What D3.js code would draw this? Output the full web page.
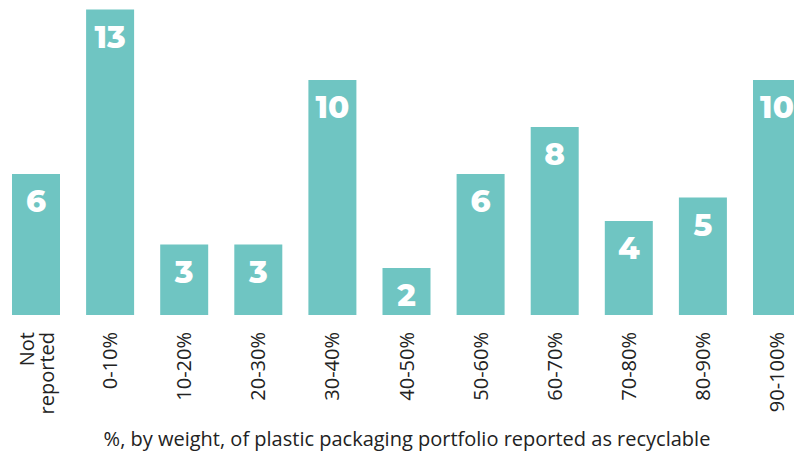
<!DOCTYPE html>
<html><head><meta charset="utf-8">
<script src="https://cdn.jsdelivr.net/npm/d3@7"></script>
<style>body{margin:0;background:#fff}svg{display:block}</style>
</head><body>
<svg id="c" width="794" height="453"></svg>
<script>
const categories = ["Not reported","0-10%","10-20%","20-30%","30-40%","40-50%","50-60%","60-70%","70-80%","80-90%","90-100%"];
const values = [6,13,3,3,10,2,6,8,4,5,10];
const axisTitle = "%, by weight, of plastic packaging portfolio reported as recyclable";

const svg = d3.select("#c");
const baseY = 315;
const step = (753-12)/10, bw = 48;
const x = d3.scaleBand().domain(categories)
  .range([12, 12 + step*10 + bw])
  .paddingInner((step-bw)/step).paddingOuter(0);
const y = d3.scaleLinear().domain([0,13]).range([baseY, baseY - 13*23.5]);

const g = svg.append("g");
g.selectAll("rect").data(values).join("rect")
  .attr("x",(d,i)=>x(categories[i]))
  .attr("width",x.bandwidth())
  .attr("y",d=>y(d))
  .attr("height",d=>baseY-y(d))
  .attr("fill","#6fc5c2");

g.selectAll("text.v").data(values).join("text").attr("class","v")
  .attr("x",(d,i)=>x(categories[i])+x.bandwidth()/2)
  .attr("y",d=>y(d)+38)
  .attr("text-anchor","middle")
  .attr("fill","#fff")
  .style("font-family","Montserrat, 'Open Sans', sans-serif")
  .style("font-weight","800")
  .style("font-size","31px")
  .text(d=>d);

categories.forEach((c,i)=>{
  const cx = x(c)+x.bandwidth()/2;
  const lines = c === "Not reported" ? ["Not","reported"] : [c];
  lines.forEach((t,j)=>{
    const off = lines.length===1 ? 7 : (j===0 ? -2 : 18);
    svg.append("text")
      .attr("transform",`translate(${cx+off},${baseY+17}) rotate(-90)`)
      .attr("text-anchor","end")
      .attr("fill","#222")
      .style("font-family","'Open Sans', sans-serif")
      .style("font-size","20px")
      .text(t);
  });
});

svg.append("text")
  .attr("x",407).attr("y",446)
  .attr("text-anchor","middle")
  .attr("fill","#222")
  .style("font-family","'Open Sans', sans-serif")
  .style("font-size","20px")
  .text(axisTitle);
</script>
</body></html>
